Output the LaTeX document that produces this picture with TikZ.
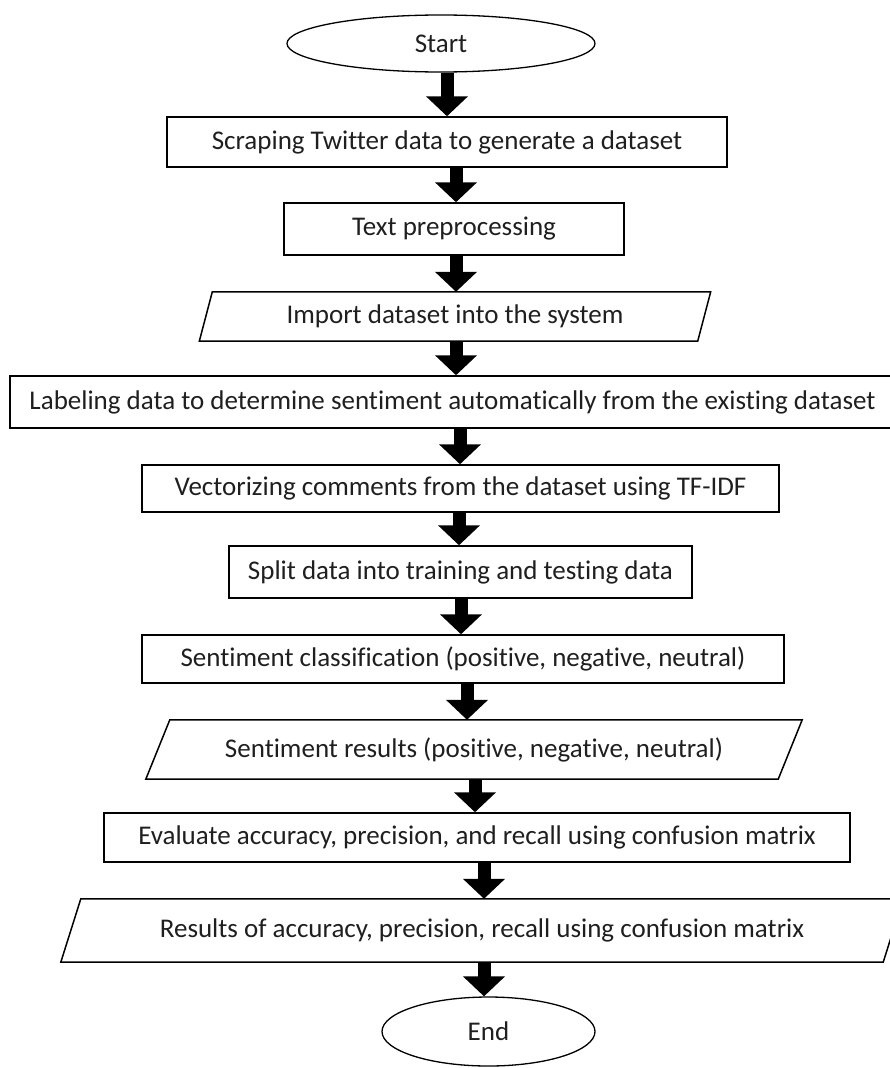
\documentclass[tikz,border=0pt]{standalone}
\usepackage{fontspec}
\setmainfont{Carlito}[Ligatures=NoCommon]
\usetikzlibrary{arrows.meta,shapes.geometric}
\begin{document}
\begin{tikzpicture}[x=1pt,y=-1pt,
  every node/.style={font=\fontsize{27}{31}\selectfont, inner sep=0pt, text=black!88},
  proc/.style={draw, line width=1.5pt, rectangle},
  term/.style={draw, line width=1.3pt, ellipse},
  io/.style={rectangle},
  barrow/.style={line width=13pt, -{Triangle[width=41pt,length=20pt]}},
  parline/.style={line width=1.5pt, line join=miter}]
\useasboundingbox (0,0) rectangle (889,1068);

\node[term, minimum width=308pt, minimum height=57pt] (start) at (441,43.5) {Start};
\node[proc, minimum width=560pt, minimum height=50pt] (scrape) at (447,142) {Scraping Twitter data to generate a dataset};
\node[proc, minimum width=340pt, minimum height=52pt] (pre) at (454,229) {Text preprocessing};
\node[io, minimum width=498pt, minimum height=49pt] (imp) at (455,316.5) {Import dataset into the system};
\node[proc, minimum width=885pt, minimum height=52pt] (lab) at (452.5,402) {Labeling data to determine sentiment automatically from the existing dataset};
\node[proc, minimum width=637pt, minimum height=47pt] (vec) at (460.5,488.5) {Vectorizing comments from the dataset using TF-IDF};
\node[proc, minimum width=463pt, minimum height=52pt] (split) at (460.5,572) {Split data into training and testing data};
\node[proc, minimum width=642pt, minimum height=48pt] (cls) at (463,659) {Sentiment classification (positive, negative, neutral)};
\node[io, minimum width=632pt, minimum height=59pt] (res) at (474,749.5) {Sentiment results (positive, negative, neutral)};
\node[proc, minimum width=746pt, minimum height=49pt] (eval) at (477,837.5) {Evaluate accuracy, precision, and recall using confusion matrix};
\node[io, minimum width=822pt, minimum height=63pt] (fin) at (482,930.5) {Results of accuracy, precision, recall using confusion matrix};
\node[term, minimum width=213pt, minimum height=69pt] (end) at (488.5,1031.5) {End};

\draw[parline] ([xshift=-6.5pt]imp.south west) -- ([xshift=-6.5pt]imp.south east) -- ([xshift=6.5pt]imp.north east) -- ([xshift=6.5pt]imp.north west) -- cycle;
\draw[parline] ([xshift=-12pt]res.south west) -- ([xshift=-12pt]res.south east) -- ([xshift=12pt]res.north east) -- ([xshift=12pt]res.north west) -- cycle;
\draw[parline] ([xshift=-10pt]fin.south west) -- ([xshift=-10pt]fin.south east) -- ([xshift=10pt]fin.north east) -- ([xshift=10pt]fin.north west) -- cycle;

\draw[barrow] ([xshift=6pt]start.south) -- ([xshift=6pt]start.south |- scrape.north);
\draw[barrow] ([xshift=9pt]scrape.south) -- ([xshift=9pt]scrape.south |- pre.north);
\draw[barrow] ([xshift=2pt]pre.south) -- ([xshift=2pt]pre.south |- imp.north);
\draw[barrow] ([xshift=1pt]imp.south) -- ([xshift=1pt]imp.south |- lab.north);
\draw[barrow] ([xshift=7.5pt]lab.south) -- ([xshift=7.5pt]lab.south |- vec.north);
\draw[barrow] ([xshift=-1.5pt]vec.south) -- ([xshift=-1.5pt]vec.south |- split.north);
\draw[barrow] ([xshift=0.5pt]split.south) -- ([xshift=0.5pt]split.south |- cls.north);
\draw[barrow] ([xshift=4pt]cls.south) -- ([xshift=4pt]cls.south |- res.north);
\draw[barrow] ([xshift=1pt]res.south) -- ([xshift=1pt]res.south |- eval.north);
\draw[barrow] ([xshift=7pt]eval.south) -- ([xshift=7pt]eval.south |- fin.north);
\draw[barrow] ([xshift=2pt]fin.south) -- ([xshift=2pt]fin.south |- end.north);
\end{tikzpicture}
\end{document}
